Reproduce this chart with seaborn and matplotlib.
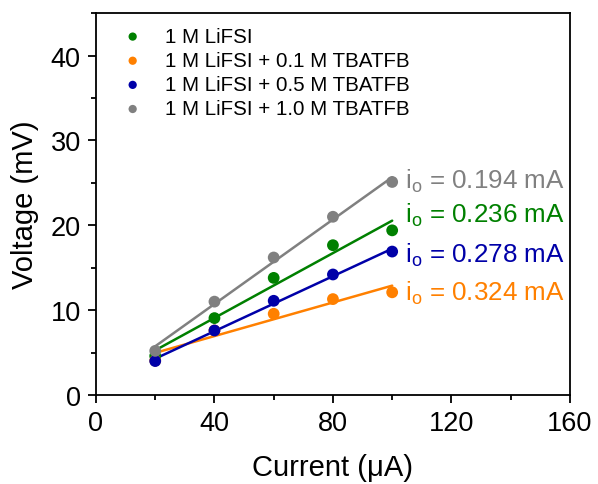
import numpy as np
import pandas as pd
import matplotlib
matplotlib.use("Agg")
import matplotlib.pyplot as plt
from matplotlib.ticker import MultipleLocator
import seaborn as sns

# Measured overpotential vs. applied current for each electrolyte
current = [20, 40, 60, 80, 100]
v_lifsi = [4.6, 9.06, 13.8, 17.65, 19.4]
v_tba01 = [4.05, 7.6, 9.57, 11.3, 12.1]
v_tba05 = [4.0, 7.6, 11.1, 14.2, 16.9]
v_tba10 = [5.2, 11.0, 16.2, 21.0, 25.1]

labels = ["1 M LiFSI", "1 M LiFSI + 0.1 M TBATFB",
          "1 M LiFSI + 0.5 M TBATFB", "1 M LiFSI + 1.0 M TBATFB"]
exchange_current = ["0.236", "0.324", "0.278", "0.194"]
colors = ["#008000", "#FF8000", "#0000A8", "#808080"]

series = [v_lifsi, v_tba01, v_tba05, v_tba10]
df = pd.DataFrame({
    "Current": np.tile(current, len(series)),
    "Voltage": np.concatenate(series),
    "Electrolyte": np.repeat(labels, len(current)),
})

sns.set_style("ticks")
plt.rcParams["font.family"] = ["Liberation Sans", "DejaVu Sans"]
plt.rcParams["mathtext.fontset"] = "custom"
plt.rcParams["mathtext.rm"] = "Liberation Sans"
plt.rcParams["mathtext.it"] = "Liberation Sans"
for key in ["text.color", "axes.labelcolor", "xtick.color", "ytick.color",
            "axes.edgecolor"]:
    plt.rcParams[key] = "black"

fig = plt.figure(figsize=(5.98, 4.85), dpi=100)
ax = fig.add_axes([0.1605, 0.1835, 0.7925, 0.7875])

palette = dict(zip(labels, colors))
for lab in labels:
    sub = df[df["Electrolyte"] == lab]
    sns.regplot(data=sub, x="Current", y="Voltage", ax=ax, scatter=False,
                ci=None, truncate=True,
                line_kws=dict(color=palette[lab], lw=1.8, zorder=2))
for lab in labels:
    sub = df[df["Electrolyte"] == lab]
    sns.scatterplot(data=sub, x="Current", y="Voltage", ax=ax,
                    color=palette[lab], s=72, edgecolor="none",
                    label=lab, zorder=3)

# Exchange current density labels next to each fit
label_y = {labels[3]: 25.3, labels[0]: 21.3, labels[2]: 16.6, labels[1]: 12.1}
for lab, i0, c in zip(labels, exchange_current, colors):
    ax.text(104.3, label_y[lab], r"i$_{\mathrm{o}}$ = " + i0 + " mA",
            color=c, fontsize=18.7, va="center", ha="left")

ax.set_xlim(0, 160)
ax.set_ylim(0, 45)
ax.xaxis.set_major_locator(MultipleLocator(40))
ax.xaxis.set_minor_locator(MultipleLocator(20))
ax.yaxis.set_major_locator(MultipleLocator(10))
ax.yaxis.set_minor_locator(MultipleLocator(5))
ax.tick_params(which="major", length=6, width=1.3, labelsize=19.5,
               direction="out", pad=5)
ax.tick_params(which="minor", length=3.5, width=1.3, direction="out")
for s in ax.spines.values():
    s.set_linewidth(1.3)
    s.set_visible(True)

ax.set_xlabel("Current (\u03bcA)", fontsize=21, labelpad=12)
ax.set_ylabel("Voltage (mV)", fontsize=21, labelpad=8)

leg = ax.legend(loc="upper left", frameon=False, fontsize=14.8,
                handletextpad=0.55, labelspacing=0.25,
                bbox_to_anchor=(-0.005, 1.012), markerscale=0.7)

fig.savefig("out.png", dpi=100)
